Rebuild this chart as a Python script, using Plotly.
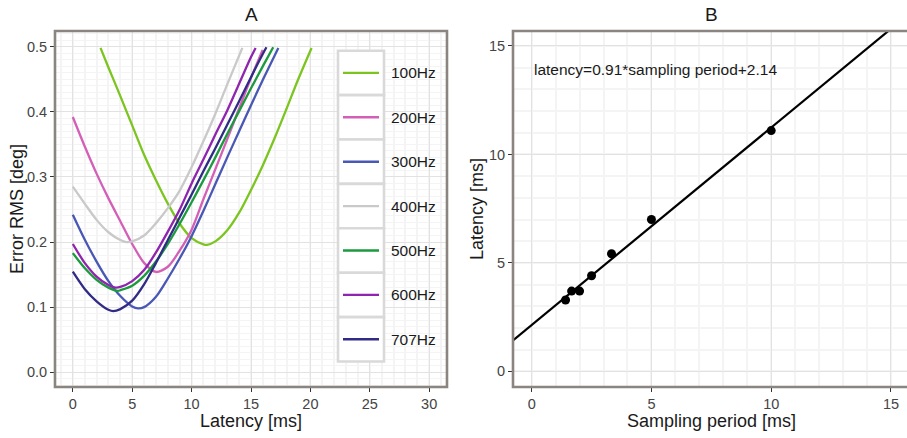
import plotly.graph_objects as go

# ---------------- data: panel A (error RMS vs latency) ----------------
freq_labels = ["100Hz", "200Hz", "300Hz", "400Hz", "500Hz", "600Hz", "707Hz"]
freq_colors = ["#7CC520", "#D35FB7", "#4958B5", "#C9C9C9", "#1B9A3E", "#8F24AF", "#302B84"]

lat_100 = [2.33, 3, 4, 5, 6, 7, 8, 9, 10, 11, 11.3, 12, 13, 14, 15, 16, 17, 18, 19, 20.1]
err_100 = [0.498, 0.468, 0.424, 0.379, 0.334, 0.295, 0.259, 0.228, 0.206, 0.1965, 0.1957, 0.201, 0.218, 0.245, 0.280, 0.318, 0.360, 0.405, 0.451, 0.498]

lat_200 = [0, 1, 2, 3, 4, 5, 6, 7, 8, 9, 10, 11, 12, 13, 14, 15, 15.98]
err_200 = [0.392, 0.347, 0.305, 0.267, 0.232, 0.197, 0.168, 0.154, 0.162, 0.187, 0.219, 0.266, 0.312, 0.358, 0.405, 0.452, 0.495]

lat_300 = [0, 1, 2, 3, 4, 5, 5.5, 6, 7, 8, 9, 10, 11, 12, 13, 14, 15, 16, 17.3]
err_300 = [0.242, 0.204, 0.170, 0.140, 0.117, 0.101, 0.098, 0.100, 0.116, 0.144, 0.175, 0.209, 0.248, 0.289, 0.330, 0.370, 0.410, 0.449, 0.498]

lat_400 = [0, 1, 2, 3, 4, 4.5, 5, 6, 7, 8, 9, 10, 11, 12, 13, 14.27]
err_400 = [0.285, 0.259, 0.234, 0.215, 0.203, 0.200, 0.201, 0.210, 0.229, 0.252, 0.279, 0.315, 0.355, 0.397, 0.442, 0.498]

lat_500 = [0, 1, 2, 3, 3.8, 4, 5, 6, 7, 8, 9, 10, 11, 12, 13, 14, 15, 16, 16.87]
err_500 = [0.183, 0.160, 0.142, 0.130, 0.125, 0.126, 0.133, 0.148, 0.170, 0.197, 0.228, 0.261, 0.295, 0.330, 0.366, 0.401, 0.436, 0.470, 0.499]

lat_600 = [0, 1, 2, 3, 3.6, 4, 5, 6, 7, 8, 9, 10, 11, 12, 13, 14, 15, 15.39]
err_600 = [0.197, 0.168, 0.147, 0.134, 0.130, 0.131, 0.140, 0.157, 0.184, 0.216, 0.250, 0.290, 0.327, 0.365, 0.402, 0.443, 0.484, 0.498]

lat_707 = [0, 1, 2, 3, 3.4, 4, 5, 6, 7, 8, 9, 10, 11, 12, 13, 14, 15, 16, 16.3]
err_707 = [0.1545, 0.128, 0.109, 0.096, 0.094, 0.097, 0.110, 0.135, 0.168, 0.203, 0.238, 0.273, 0.309, 0.344, 0.380, 0.416, 0.453, 0.489, 0.499]

series_lat = [lat_100, lat_200, lat_300, lat_400, lat_500, lat_600, lat_707]
series_err = [err_100, err_200, err_300, err_400, err_500, err_600, err_707]

# ---------------- data: panel B (latency vs sampling period) ----------------
sampling_period = [1.414, 1.667, 2.0, 2.5, 3.333, 5.0, 10.0]
latency_at_min = [3.29, 3.70, 3.70, 4.41, 5.42, 7.00, 11.10]
fit_slope = 0.91
fit_intercept = 2.14
fit_label = "latency=0.91*sampling period+2.14"

# ---------------- layout geometry (pixels) ----------------
W, H = 907, 438
def px(x):
    return x / W
def py(y):
    return 1 - y / H

A_x0, A_x1 = 55, 447
B_x0, B_x1 = 513, 907
P_top, P_bot = 31, 387

A_xrange = [-1.5, 31.5]
A_yrange = [-0.0226, 0.524]
B_xrange = [-0.78, 15.67]
B_yrange = [-0.72, 15.69]

FONT = "Liberation Sans, Arial, sans-serif"
TICKC = "#444444"
BORDER = "#8A8580"
MAJOR = "#E2E2E2"
MINOR = "#F4F4F4"

fig = go.Figure()

for name, col, xs, ys in zip(freq_labels, freq_colors, series_lat, series_err):
    fig.add_trace(go.Scatter(x=xs, y=ys, mode="lines", name=name,
                             line=dict(color=col, width=2.3, shape="spline", smoothing=0.8),
                             xaxis="x", yaxis="y", showlegend=False))

fit_x = [B_xrange[0], B_xrange[1]]
fit_y = [fit_slope * v + fit_intercept for v in fit_x]
fig.add_trace(go.Scatter(x=fit_x, y=fit_y, mode="lines", line=dict(color="black", width=2.2),
                         xaxis="x2", yaxis="y2", showlegend=False, name="fit"))
fig.add_trace(go.Scatter(x=sampling_period, y=latency_at_min, mode="markers",
                         marker=dict(color="black", size=9), xaxis="x2", yaxis="y2",
                         showlegend=False, name="latency"))

def axis_common():
    return dict(showline=False, zeroline=False, ticks="outside", ticklen=4, tickwidth=1.4,
                tickcolor="#333333", tickfont=dict(family=FONT, size=14.5, color=TICKC),
                showgrid=True, gridcolor=MAJOR, gridwidth=1.2, automargin=False)

fig.update_layout(
    width=W, height=H, margin=dict(l=0, r=0, t=0, b=0),
    paper_bgcolor="white", plot_bgcolor="white",
    xaxis=dict(domain=[px(A_x0), px(A_x1)], range=A_xrange, tickvals=[0, 5, 10, 15, 20, 25, 30],
               minor=dict(dtick=1, tick0=0, showgrid=True, gridcolor=MINOR, gridwidth=1.5, ticks=""),
               anchor="y", **axis_common()),
    yaxis=dict(domain=[py(P_bot), py(P_top)], range=A_yrange, tickvals=[0, 0.1, 0.2, 0.3, 0.4, 0.5],
               tickformat=".1f",
               minor=dict(dtick=0.01, tick0=0, showgrid=True, gridcolor=MINOR, gridwidth=1.4, ticks=""),
               anchor="x", **axis_common()),
    xaxis2=dict(domain=[px(B_x0), px(B_x1)], range=B_xrange, tickvals=[0, 5, 10, 15],
                minor=dict(dtick=1, tick0=0, showgrid=True, gridcolor=MINOR, gridwidth=1.8, ticks=""),
                anchor="y2", **axis_common()),
    yaxis2=dict(domain=[py(P_bot), py(P_top)], range=B_yrange, tickvals=[0, 5, 10, 15],
                minor=dict(dtick=1, tick0=0, showgrid=True, gridcolor=MINOR, gridwidth=1.8, ticks=""),
                anchor="x2", **axis_common()),
    font=dict(family=FONT, color="black"),
)

shapes = []
# panel borders
shapes.append(dict(type="rect", xref="x domain", yref="y domain", x0=0, x1=1, y0=0, y1=1,
                   line=dict(color=BORDER, width=2.6), layer="above"))
shapes.append(dict(type="rect", xref="paper", yref="paper", x0=px(B_x0), x1=px(B_x1 + 6),
                   y0=py(P_bot), y1=py(P_top), line=dict(color=BORDER, width=2.6), layer="above"))

annotations = []
# manual legend (boxed keys as in the reference)
key_x0, key_x1 = 338, 384
key_top, key_h = 50.7, 44.4
for i, (name, col) in enumerate(zip(freq_labels, freq_colors)):
    t = key_top + i * key_h
    shapes.append(dict(type="rect", xref="paper", yref="paper",
                       x0=px(key_x0), x1=px(key_x1), y0=py(t + key_h), y1=py(t),
                       line=dict(color="#D9D9D9", width=2.6), fillcolor="white", layer="above"))
    cy = t + key_h / 2
    shapes.append(dict(type="line", xref="paper", yref="paper",
                       x0=px(343), x1=px(379), y0=py(cy), y1=py(cy),
                       line=dict(color=col, width=2.4), layer="above"))
    annotations.append(dict(text=name, xref="paper", yref="paper", x=px(389), y=py(cy),
                            xanchor="left", yanchor="middle", showarrow=False,
                            font=dict(family=FONT, size=15.5, color="#1A1A1A")))

# panel titles
annotations.append(dict(text="A", xref="paper", yref="paper", x=px((A_x0 + A_x1) / 2), y=py(14),
                        xanchor="center", yanchor="middle", showarrow=False,
                        font=dict(family=FONT, size=19, color="#1A1A1A")))
annotations.append(dict(text="B", xref="paper", yref="paper", x=px(711), y=py(14),
                        xanchor="center", yanchor="middle", showarrow=False,
                        font=dict(family=FONT, size=19, color="#1A1A1A")))
# axis titles
annotations.append(dict(text="Latency [ms]", xref="paper", yref="paper", x=px((A_x0 + A_x1) / 2), y=py(421),
                        xanchor="center", yanchor="middle", showarrow=False,
                        font=dict(family=FONT, size=18, color="#1A1A1A")))
annotations.append(dict(text="Sampling period [ms]", xref="paper", yref="paper", x=px(711), y=py(421),
                        xanchor="center", yanchor="middle", showarrow=False,
                        font=dict(family=FONT, size=18, color="#1A1A1A")))
annotations.append(dict(text="Error RMS [deg]", xref="paper", yref="paper", x=px(17), y=py((P_top + P_bot) / 2),
                        xanchor="center", yanchor="middle", showarrow=False, textangle=-90,
                        font=dict(family=FONT, size=18, color="#1A1A1A")))
annotations.append(dict(text="Latency [ms]", xref="paper", yref="paper", x=px(477), y=py((P_top + P_bot) / 2),
                        xanchor="center", yanchor="middle", showarrow=False, textangle=-90,
                        font=dict(family=FONT, size=18, color="#1A1A1A")))
# fit equation
annotations.append(dict(text=fit_label, xref="x2", yref="y2", x=0, y=13.9,
                        xanchor="left", yanchor="middle", showarrow=False,
                        font=dict(family=FONT, size=15.5, color="#1A1A1A")))

fig.update_layout(shapes=shapes, annotations=annotations)

fig.write_html("out.html", config={"displayModeBar": False},
               post_script="document.body.style.margin='0';document.body.style.overflow='hidden';")
